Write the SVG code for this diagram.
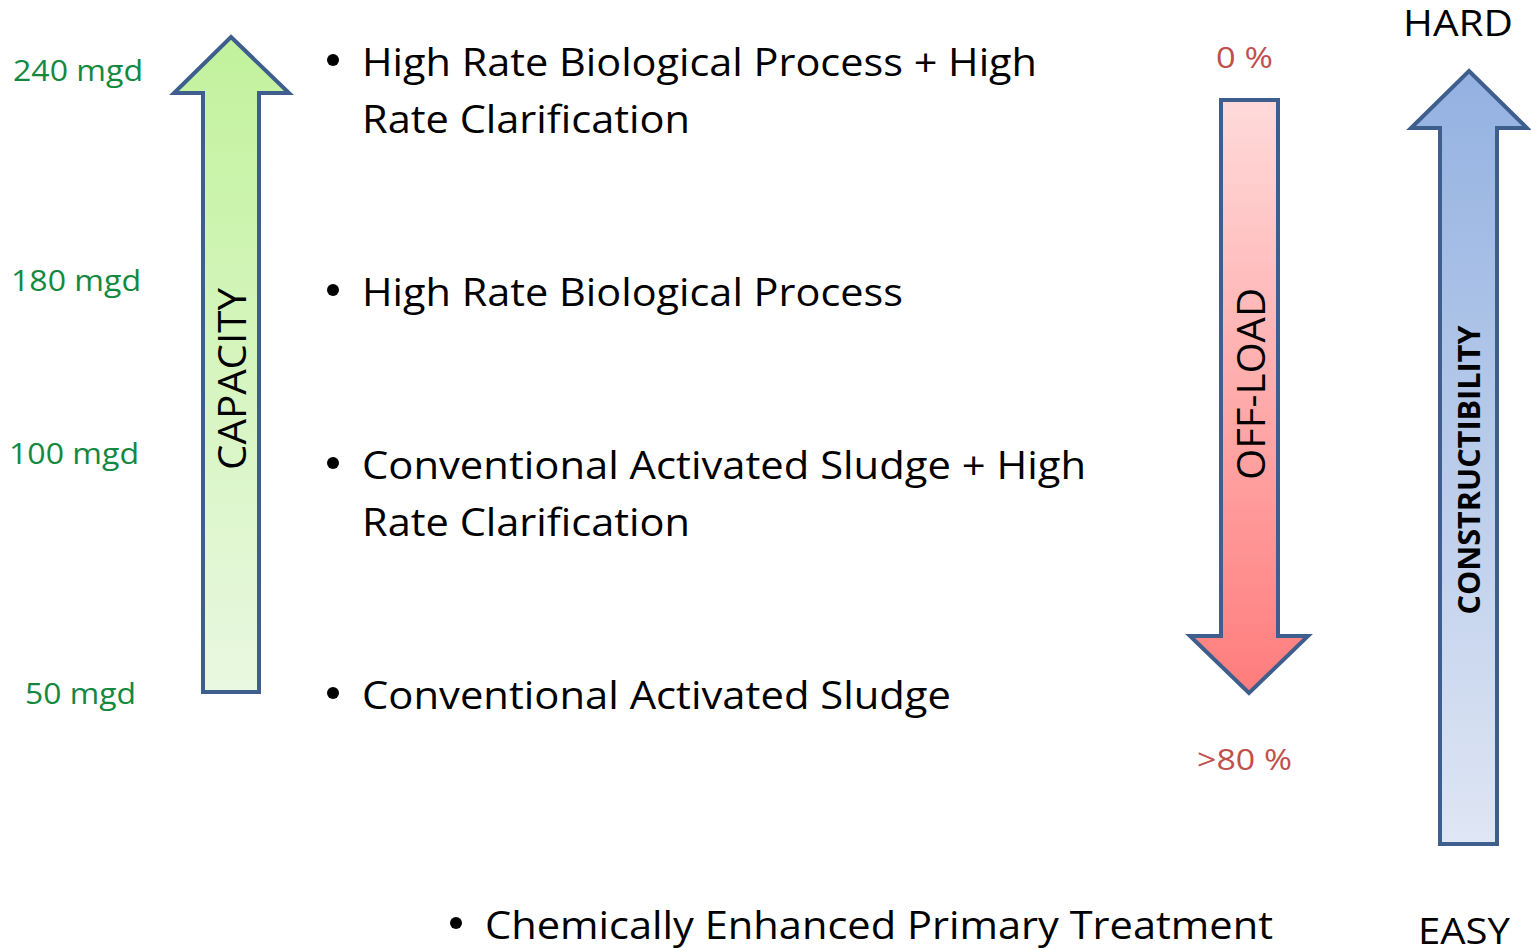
<svg xmlns="http://www.w3.org/2000/svg" width="1531" height="950" viewBox="0 0 1531 950">
<defs>
<linearGradient id="gGreen" x1="0" y1="0" x2="0" y2="1"><stop offset="0" stop-color="#C2F29C"/><stop offset="1" stop-color="#E9F8E1"/></linearGradient>
<linearGradient id="gRed" x1="0" y1="0" x2="0" y2="1"><stop offset="0" stop-color="#FFDADA"/><stop offset="1" stop-color="#FF7C7C"/></linearGradient>
<linearGradient id="gBlue" x1="0" y1="0" x2="0" y2="1"><stop offset="0" stop-color="#93B1E1"/><stop offset="1" stop-color="#DFE6F4"/></linearGradient>
<style>
.arrow{stroke:#3E5F8D;stroke-width:4;stroke-linejoin:miter}
.t{font-family:"Open Sans","Liberation Sans",sans-serif}
.mgd{fill:#13893F;font-size:30px}
.item{fill:#000;font-size:39px}
.pct{fill:#C0504D;font-size:30px}
.end{fill:#000;font-size:37px}
</style>
</defs>
<g id="capacity-arrow">
<polygon class="arrow" fill="url(#gGreen)" points="231,37 289,93 259,93 259,692 203,692 203,93 174,93"/>
<text class="t" transform="translate(246,379) rotate(-90)" text-anchor="middle" font-size="38" textLength="182" lengthAdjust="spacingAndGlyphs">CAPACITY</text>
</g>
<g id="capacity-labels">
<text class="t mgd" x="13" y="81" textLength="130" lengthAdjust="spacingAndGlyphs">240 mgd</text>
<text class="t mgd" x="11" y="291" textLength="130" lengthAdjust="spacingAndGlyphs">180 mgd</text>
<text class="t mgd" x="9" y="464" textLength="130" lengthAdjust="spacingAndGlyphs">100 mgd</text>
<text class="t mgd" x="25" y="704" textLength="111" lengthAdjust="spacingAndGlyphs">50 mgd</text>
</g>
<g id="process-list">
<circle cx="333" cy="60" r="6"/>
<text class="t item" x="362" y="76" textLength="675" lengthAdjust="spacingAndGlyphs">High Rate Biological Process + High</text>
<text class="t item" x="362" y="133" textLength="328" lengthAdjust="spacingAndGlyphs">Rate Clarification</text>
<circle cx="333" cy="290" r="6"/>
<text class="t item" x="362" y="306" textLength="541" lengthAdjust="spacingAndGlyphs">High Rate Biological Process</text>
<circle cx="333" cy="463" r="6"/>
<text class="t item" x="362" y="479" textLength="724" lengthAdjust="spacingAndGlyphs">Conventional Activated Sludge + High</text>
<text class="t item" x="362" y="536" textLength="328" lengthAdjust="spacingAndGlyphs">Rate Clarification</text>
<circle cx="333" cy="693" r="6"/>
<text class="t item" x="362" y="709" textLength="589" lengthAdjust="spacingAndGlyphs">Conventional Activated Sludge</text>
<circle cx="456" cy="923" r="6"/>
<text class="t item" x="485" y="939" textLength="788" lengthAdjust="spacingAndGlyphs">Chemically Enhanced Primary Treatment</text>
</g>
<g id="offload-arrow">
<polygon class="arrow" fill="url(#gRed)" points="1221,100 1278,100 1278,636 1308,636 1249,693 1190,636 1221,636"/>
<text class="t" transform="translate(1265,384) rotate(-90)" text-anchor="middle" font-size="38" textLength="192" lengthAdjust="spacingAndGlyphs">OFF-LOAD</text>
</g>
<g id="offload-labels">
<text class="t pct" x="1216" y="68" textLength="57" lengthAdjust="spacingAndGlyphs">0 %</text>
<text class="t pct" x="1197" y="770" textLength="95" lengthAdjust="spacingAndGlyphs">&gt;80 %</text>
</g>
<g id="constructibility-arrow">
<polygon class="arrow" fill="url(#gBlue)" points="1469,71 1527,128 1497,128 1497,844 1440,844 1440,128 1411,128"/>
<text class="t" transform="translate(1480,470) rotate(-90)" text-anchor="middle" font-size="31" font-weight="bold" textLength="289" lengthAdjust="spacingAndGlyphs">CONSTRUCTIBILITY</text>
</g>
<g id="constructibility-labels">
<text class="t end" x="1403" y="36" textLength="110" lengthAdjust="spacingAndGlyphs">HARD</text>
<text class="t end" x="1418" y="944" textLength="92" lengthAdjust="spacingAndGlyphs">EASY</text>
</g>
</svg>
